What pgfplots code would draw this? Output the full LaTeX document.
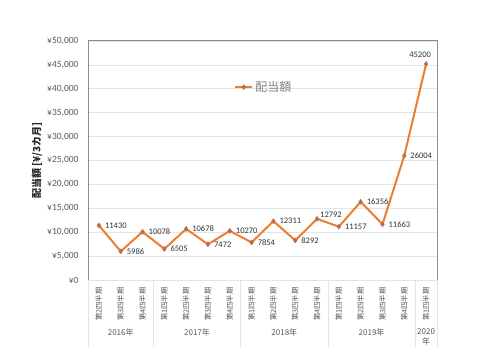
\documentclass[border=0pt]{standalone}
\usepackage{fontspec}
\setmainfont{Carlito}
\newfontfamily\cjk{Noto Sans CJK JP}
\usepackage{pgfplots}
\pgfplotsset{compat=1.18}
\usepackage{pgfplotstable}
\definecolor{lineor}{HTML}{ED7D31}
\definecolor{markc}{HTML}{B4704C}
\definecolor{txtg}{HTML}{595959}
\definecolor{gridg}{HTML}{E4E4E4}
\definecolor{frameg}{HTML}{8C8C8C}
\pgfplotstableread{
x y
0 11430
1 5986
2 10078
3 6505
4 10678
5 7472
6 10270
7 7854
8 12311
9 8292
10 12792
11 11157
12 16356
13 11663
14 26004
15 45200
}\divdata
\pgfplotsset{lbl/.style={draw=none, mark=none, forget plot, point meta=explicit symbolic, nodes near coords,
  every node near coord/.append style={font=\fontsize{8.5}{9}\selectfont, text=black!80, inner sep=2pt}}}
\begin{document}
\begin{tikzpicture}
\path[use as bounding box] (0,0) rectangle (500pt,351pt);
\begin{axis}[
  at={(88pt,71pt)}, anchor=south west,
  scale only axis, width=349pt, height=239pt,
  xmin=-0.5, xmax=15.5, ymin=0, ymax=50000,
  ytick={0,5000,...,50000},
  yticklabel={¥\pgfmathprintnumber{\tick}},
  /pgf/number format/.cd, fixed, 1000 sep={,}, assume math mode=true, /pgfplots/.cd,
  scaled y ticks=false,
  xtick={0,...,15},
  xticklabels={{第2四半期},{第3四半期},{第4四半期},{第1四半期},{第2四半期},{第3四半期},{第4四半期},{第1四半期},{第2四半期},{第3四半期},{第4四半期},{第1四半期},{第2四半期},{第3四半期},{第4四半期},{第1四半期}},
  xticklabel style={rotate=90, anchor=east, font=\cjk\fontsize{7.3}{8}\selectfont, text=txtg, xshift=-4pt},
  yticklabel style={font=\fontsize{9.5}{11}\selectfont, text=txtg, xshift=-6pt},
  major tick length=0pt,
  ymajorgrids, grid style={gridg, line width=0.8pt},
  axis line style={frameg, line width=1pt},
  x axis line style={gridg},
  axis x line*=bottom,
  clip=false,
  ylabel={\cjk\bfseries 配当額 [¥/3カ月]},
  ylabel style={at={(axis description cs:-0.146,0.5)}, anchor=center, font=\fontsize{10}{12}\selectfont, text=black!85},
  legend style={at={(rel axis cs:0.41,0.807)}, anchor=west, draw=none, fill=none, font=\cjk\fontsize{12}{14}\selectfont, text=gray},
  legend cell align=left,
]
\addplot[lineor, line width=2pt, mark=diamond*, mark size=2.6pt, mark options={fill=markc, draw=markc, line width=0.3pt}]
  table[x=x, y=y] {\divdata};
\addlegendentry{配当額}
\addplot[lbl, every node near coord/.append style={anchor=west, xshift=4pt}] coordinates {
 (0,11430) [11430] (1,5986) [5986] (2,10078) [10078] (3,6505) [6505] (4,10678) [10678]
 (5,7472) [7472] (6,10270) [10270] (7,7854) [7854] (8,12311) [12311] (9,8292) [8292]
 (11,11157) [11157] (12,16356) [16356] (13,11663) [11663] (14,26004) [26004]};
\addplot[lbl, every node near coord/.append style={anchor=west, xshift=1pt, yshift=4pt}] coordinates {(10,12792) [12792]};
\addplot[lbl, every node near coord/.append style={anchor=south, xshift=-6pt, yshift=4pt}] coordinates {(15,45200) [45200]};
% frame lines (top, left, right)
\draw[frameg, line width=1pt] (rel axis cs:0,0) -- (rel axis cs:0,1) -- (rel axis cs:1,1) -- (rel axis cs:1,0);
% group separators
\pgfplotsinvokeforeach{-0.5,2.5,6.5,10.5,14.5,15.5}{
  \draw[gridg, line width=0.7pt] (axis cs:#1,0) -- ([yshift=-67pt]axis cs:#1,0);
}
\node[font=\cjk\fontsize{8}{9}\selectfont, text=txtg, yshift=-52pt] at (axis cs:1,0) {2016年};
\node[font=\cjk\fontsize{8}{9}\selectfont, text=txtg, yshift=-52pt] at (axis cs:4.5,0) {2017年};
\node[font=\cjk\fontsize{8}{9}\selectfont, text=txtg, yshift=-52pt] at (axis cs:8.5,0) {2018年};
\node[font=\cjk\fontsize{8}{9}\selectfont, text=txtg, yshift=-52pt] at (axis cs:12.5,0) {2019年};
\node[font=\cjk\fontsize{8}{10}\selectfont, text=txtg, align=center, yshift=-57pt] at (axis cs:15,0) {2020\\年};
\end{axis}
\end{tikzpicture}
\end{document}
